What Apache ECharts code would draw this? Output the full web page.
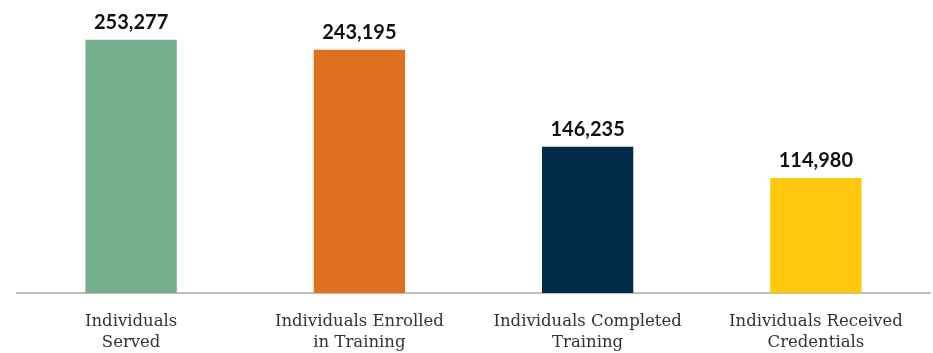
<!DOCTYPE html>
<html>
<head>
<meta charset="utf-8">
<script src="https://cdn.jsdelivr.net/npm/echarts@6/dist/echarts.min.js"></script>
<style>
  html, body { margin: 0; padding: 0; background: #fff; }
  #chart { width: 933px; height: 353px; }
</style>
</head>
<body>
<div id="chart"></div>
<script>
// categories and values
const categories = [
  'Individuals\nServed',
  'Individuals Enrolled\nin Training',
  'Individuals Completed\nTraining',
  'Individuals Received\nCredentials'
]
const values = [253277, 243195, 146235, 114980]
const barColors = ['#74AE8D', '#E0701F', '#022B47', '#FEC80D']

const chart = echarts.init(document.getElementById('chart'))

const option = {
  animation: false,
  grid: { left: 17, right: 3, top: 33, bottom: 60 },
  xAxis: {
    type: 'category',
    data: categories,
    axisTick: { show: false },
    axisLine: { lineStyle: { color: '#BDBDBD', width: 2 } },
    axisLabel: {
      margin: 18,
      color: '#333',
      fontFamily: 'DejaVu Serif',
      fontSize: 16.5,
      lineHeight: 21,
      interval: 0
    }
  },
  yAxis: {
    type: 'value',
    min: 0,
    max: 260000,
    show: false,
    splitLine: { show: false }
  },
  series: [
    {
      type: 'bar',
      barWidth: '40%',
      data: values.map((v, i) => ({ value: v, itemStyle: { color: barColors[i] } })),
      label: {
        show: true,
        position: 'top',
        distance: 7,
        color: '#111',
        fontFamily: 'Lato',
        fontWeight: 'bold',
        fontSize: 20,
        formatter: (p) => p.value.toLocaleString('en-US')
      }
    }
  ]
}

chart.setOption(option)
</script>
</body>
</html>
